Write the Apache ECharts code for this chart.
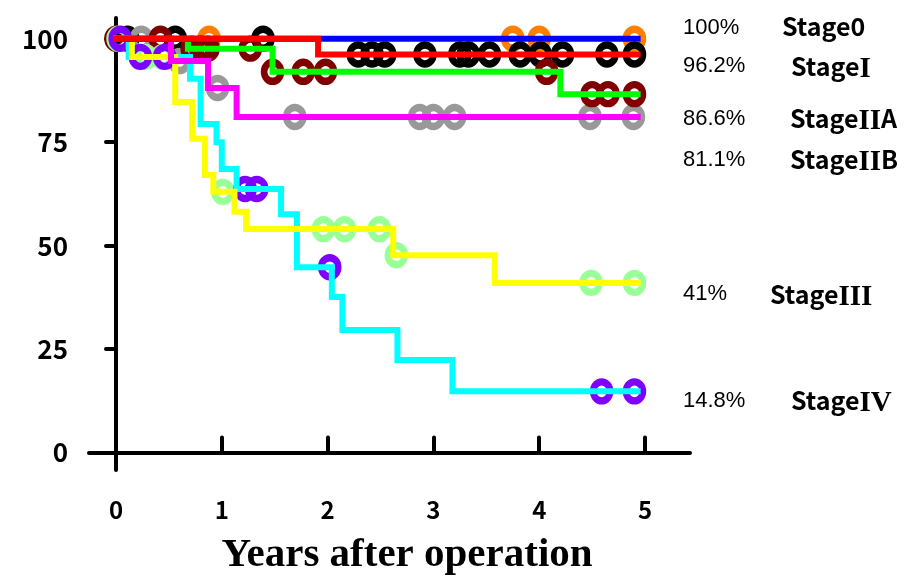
<!DOCTYPE html>
<html><head><meta charset="utf-8">
<script src="https://cdn.jsdelivr.net/npm/echarts@6/dist/echarts.min.js"></script>
<style>html,body{margin:0;padding:0;background:#fff}#c{width:908px;height:576px}</style>
</head><body><div id="c"></div>
<script>
// ---- data ----
const stageNames = ['Stage0', 'StageI', 'StageIIA', 'StageIIB', 'StageIII', 'StageIV'];
const finalLabels = ['100%', '96.2%', '86.6%', '81.1%', '41%', '14.8%'];
const xTickValues = [0, 1, 2, 3, 4, 5];
const yTickValues = [0, 25, 50, 75, 100];
const xTitle = 'Years after operation';

// Kaplan-Meier steps: time (years) and survival (%) after each step
const stage0Time = [0, 4.93];
const stage0Surv = [100, 100];
const stageITime = [0, 1.91, 4.93];
const stageISurv = [100, 96.2, 96.2];
const stageIIATime = [0, 0.68, 1.48, 4.2, 4.93];
const stageIIASurv = [100, 97.6, 92.0, 86.6, 86.6];
const stageIIBTime = [0, 0.52, 0.87, 1.14, 4.93];
const stageIIBSurv = [100, 94.6, 88.1, 81.1, 81.1];
const stageIIITime = [0, 0.15, 0.56, 0.72, 0.84, 0.92, 1.12, 1.23, 2.62, 3.58, 4.93];
const stageIIISurv = [100, 95.6, 84.7, 75.8, 67.1, 63.0, 58.2, 54.0, 47.7, 41.0, 41.0];
const stageIVTime = [0, 0.12, 0.70, 0.80, 0.95, 1.00, 1.14, 1.56, 1.71, 2.04, 2.14, 2.66, 3.18, 4.93];
const stageIVSurv = [100, 95.6, 90.3, 79.4, 75.0, 68.5, 63.7, 57.6, 44.8, 37.6, 29.6, 22.4, 14.8, 14.8];

// censored observations: time and survival at that time
const stage0CensTime = [0.88, 3.75, 4.0, 4.9];
const stage0CensSurv = [100, 100, 100, 100];
const stageICensTime = [0.11, 0.56, 1.39, 2.29, 2.42, 2.54, 2.92, 3.25, 3.33, 3.53, 3.82, 4.01, 4.22, 4.64, 4.9];
const stageICensSurv = [100, 100, 100, 96.2, 96.2, 96.2, 96.2, 96.2, 96.2, 96.2, 96.2, 96.2, 96.2, 96.2, 96.2];
const stageIIACensTime = [0, 0.42, 0.72, 0.8, 0.87, 1.27, 1.48, 1.77, 1.98, 4.07, 4.5, 4.65, 4.9];
const stageIIACensSurv = [100, 100, 97.6, 97.6, 97.6, 97.6, 92.0, 92.0, 92.0, 92.0, 86.6, 86.6, 86.6];
const stageIIBCensTime = [0.24, 0.6, 0.96, 1.69, 2.87, 3.0, 3.2, 4.48, 4.89];
const stageIIBCensSurv = [100, 94.6, 88.1, 81.1, 81.1, 81.1, 81.1, 81.1, 81.1];
const stageIIICensTime = [0.02, 0.28, 0.44, 1.01, 1.96, 2.16, 2.49, 2.65, 4.49, 4.9];
const stageIIICensSurv = [100, 95.6, 95.6, 63.0, 54.0, 54.0, 54.0, 47.7, 41.0, 41.0];
const stageIVCensTime = [0.04, 0.23, 0.46, 1.22, 1.33, 2.02, 4.59, 4.9];
const stageIVCensSurv = [100, 95.6, 95.6, 63.7, 63.7, 44.8, 14.8, 14.8];

// ---- styles / layout ----
const lineColors = ['#0000FF', '#FF0000', '#00FF00', '#FF00FF', '#FFFF00', '#00FFFF'];
const censColors = ['#FF8000', '#000000', '#800000', '#999999', '#99FF99', '#8000FF'];
const pctPos = [[683, 28], [683, 66], [683, 119], [683, 160], [683, 294], [683, 401]];
const namePos = [[782, 26], [791, 66], [790, 118], [790, 159], [770, 294], [791, 400]];

const pair = (T, S) => T.map((t, i) => [t, S[i]]);
const curves = [
  pair(stage0Time, stage0Surv), pair(stageITime, stageISurv),
  pair(stageIIATime, stageIIASurv), pair(stageIIBTime, stageIIBSurv),
  pair(stageIIITime, stageIIISurv), pair(stageIVTime, stageIVSurv)
];
const cens = [
  pair(stage0CensTime, stage0CensSurv), pair(stageICensTime, stageICensSurv),
  pair(stageIIACensTime, stageIIACensSurv), pair(stageIIBCensTime, stageIIBCensSurv),
  pair(stageIIICensTime, stageIIICensSurv), pair(stageIVCensTime, stageIVCensSurv)
];

const lineOrder = [5, 4, 3, 2, 0, 1];
const censOrder = [0, 1, 3, 2, 4, 5];
const series = [];
lineOrder.forEach(i => series.push({
  type: 'line', step: 'end', data: curves[i], symbol: 'none', silent: true,
  lineStyle: { width: 6, color: lineColors[i], cap: 'square', join: 'miter' }
}));
censOrder.forEach(i => series.push({
  type: 'scatter', data: cens[i], symbol: 'circle', symbolSize: [17, 19], silent: true,
  itemStyle: { color: 'rgba(0,0,0,0)', borderColor: censColors[i], borderWidth: 7, opacity: 1 }
}));

const richName = n => {
  const m = n.match(/^(Stage)([IV]*)(.*)$/);
  return '{s|' + m[1] + '}' + (m[2] ? '{r|' + m[2] + '}' : '') + (m[3] ? '{s|' + m[3] + '}' : '');
};

const graphics = [];
stageNames.forEach((n, i) => {
  graphics.push({ type: 'text', x: pctPos[i][0], y: pctPos[i][1], silent: true,
    style: { text: finalLabels[i], fill: '#000', font: '22px "Liberation Sans", Arial, sans-serif', textAlign: 'left', textVerticalAlign: 'middle' } });
  graphics.push({ type: 'text', x: namePos[i][0], y: namePos[i][1], silent: true,
    style: { text: richName(n), fill: '#000', textAlign: 'left', textVerticalAlign: 'middle',
      rich: {
        s: { fontFamily: '"Noto Sans CJK JP", sans-serif', fontWeight: 'bold', fontSize: 25, fill: '#000', lineHeight: 30, verticalAlign: 'middle' },
        r: { fontFamily: '"Liberation Serif", serif', fontWeight: 'bold', fontSize: 29, fill: '#000', lineHeight: 30, verticalAlign: 'middle', padding: [7, 0, 0, 0] }
      } } });
});

const chart = echarts.init(document.getElementById('c'), null, { renderer: 'canvas' });
chart.setOption({
  animation: false,
  backgroundColor: '#fff',
  grid: { left: 89, right: 218, top: 18, bottom: 106, containLabel: false, outerBoundsMode: 'none' },
  xAxis: {
    type: 'value', min: -0.255, max: 5.425,
    name: xTitle, nameLocation: 'middle', nameGap: 65,
    nameTextStyle: { fontFamily: '"Liberation Serif", "Times New Roman", serif', fontWeight: 'bold', fontSize: 41, color: '#000', padding: [0, 0, 0, 35] },
    splitLine: { show: false },
    axisLine: { show: true, lineStyle: { color: '#000', width: 4 } },
    axisTick: { show: true, inside: true, length: 15, customValues: xTickValues, lineStyle: { color: '#000', width: 4, cap: 'round' } },
    axisLabel: { show: true, customValues: xTickValues, margin: 28, color: '#000', fontFamily: '"Noto Sans CJK JP", sans-serif', fontWeight: 'bold', fontSize: 24 }
  },
  yAxis: {
    type: 'value', min: -4.2, max: 105,
    splitLine: { show: false },
    axisLine: { show: true, lineStyle: { color: '#000', width: 4 } },
    axisTick: { show: true, inside: false, length: 10, customValues: yTickValues, lineStyle: { color: '#000', width: 4, cap: 'round' } },
    axisLabel: { show: true, customValues: yTickValues, margin: 21, color: '#000', fontFamily: '"Noto Sans CJK JP", sans-serif', fontWeight: 'bold', fontSize: 26 }
  },
  series: series,
  graphic: graphics
});
</script></body></html>
